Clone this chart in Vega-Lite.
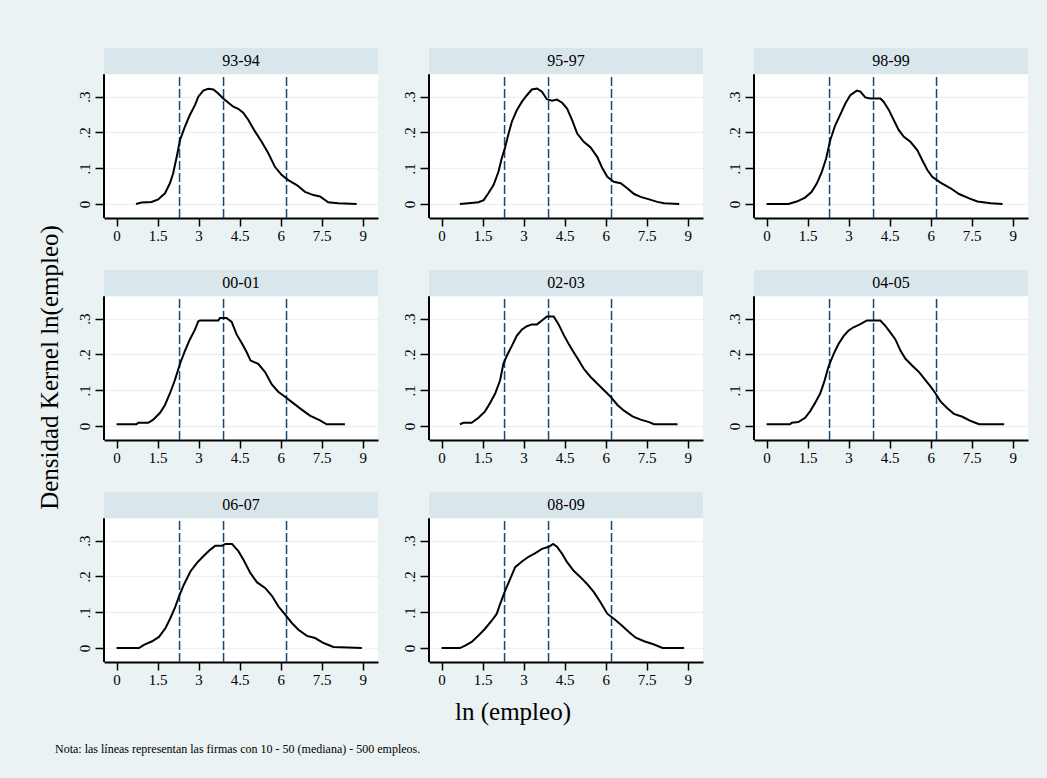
{
 "$schema": "https://vega.github.io/schema/vega-lite/v6.json",
 "background": "#eaf2f3",
 "padding": {"left": 37, "top": 48, "right": 19, "bottom": 25},
 "config": {
  "font": "Liberation Serif",
  "view": {"fill": "white", "stroke": null},
  "title": {"font": "Liberation Serif", "fontWeight": "normal", "color": "black"},
  "axisX": {"grid": false, "domain": true, "domainColor": "black", "domainWidth": 2, "ticks": true, "tickColor": "black", "tickSize": 8, "tickWidth": 1.5, "labelFontSize": 15, "labelFont": "Liberation Serif", "labelColor": "black", "labelPadding": 2, "labelFlush": false},
  "axisY": {"grid": true, "gridColor": "#eaf2f3", "gridWidth": 1.5, "domain": false, "ticks": true, "tickColor": "black", "tickSize": 9, "tickWidth": 1.5, "labelAngle": -90, "labelAlign": "center", "labelBaseline": "bottom", "labelFontSize": 15, "labelFont": "Liberation Serif", "labelColor": "black", "labelPadding": 3}
 },
 "datasets": {
  "kd": [
      {"period":"93-94","lnemp":0.71,"density":0},{"period":"93-94","lnemp":0.91,"density":0.004},{"period":"93-94","lnemp":1.28,"density":0.006},{"period":"93-94","lnemp":1.52,"density":0.013},{"period":"93-94","lnemp":1.77,"density":0.03},{"period":"93-94","lnemp":1.95,"density":0.058},{"period":"93-94","lnemp":2.07,"density":0.086},{"period":"93-94","lnemp":2.2,"density":0.132},{"period":"93-94","lnemp":2.32,"density":0.179},{"period":"93-94","lnemp":2.5,"density":0.216},{"period":"93-94","lnemp":2.68,"density":0.249},{"period":"93-94","lnemp":2.87,"density":0.277},{"period":"93-94","lnemp":2.99,"density":0.3},{"period":"93-94","lnemp":3.17,"density":0.317},{"period":"93-94","lnemp":3.35,"density":0.322},{"period":"93-94","lnemp":3.54,"density":0.32},{"period":"93-94","lnemp":3.72,"density":0.309},{"period":"93-94","lnemp":3.9,"density":0.295},{"period":"93-94","lnemp":4.09,"density":0.283},{"period":"93-94","lnemp":4.27,"density":0.272},{"period":"93-94","lnemp":4.45,"density":0.266},{"period":"93-94","lnemp":4.63,"density":0.255},{"period":"93-94","lnemp":4.82,"density":0.235},{"period":"93-94","lnemp":5.06,"density":0.203},{"period":"93-94","lnemp":5.3,"density":0.175},{"period":"93-94","lnemp":5.55,"density":0.142},{"period":"93-94","lnemp":5.79,"density":0.104},{"period":"93-94","lnemp":6.04,"density":0.081},{"period":"93-94","lnemp":6.28,"density":0.067},{"period":"93-94","lnemp":6.59,"density":0.053},{"period":"93-94","lnemp":6.89,"density":0.034},{"period":"93-94","lnemp":7.2,"density":0.025},{"period":"93-94","lnemp":7.44,"density":0.021},{"period":"93-94","lnemp":7.74,"density":0.005},{"period":"93-94","lnemp":8.11,"density":0.002},{"period":"93-94","lnemp":8.78,"density":0},
      {"period":"95-97","lnemp":0.67,"density":0},{"period":"95-97","lnemp":0.98,"density":0.002},{"period":"95-97","lnemp":1.35,"density":0.005},{"period":"95-97","lnemp":1.54,"density":0.011},{"period":"95-97","lnemp":1.71,"density":0.03},{"period":"95-97","lnemp":1.9,"density":0.053},{"period":"95-97","lnemp":2.08,"density":0.09},{"period":"95-97","lnemp":2.2,"density":0.128},{"period":"95-97","lnemp":2.33,"density":0.16},{"period":"95-97","lnemp":2.45,"density":0.197},{"period":"95-97","lnemp":2.57,"density":0.23},{"period":"95-97","lnemp":2.75,"density":0.262},{"period":"95-97","lnemp":2.94,"density":0.286},{"period":"95-97","lnemp":3.12,"density":0.304},{"period":"95-97","lnemp":3.3,"density":0.32},{"period":"95-97","lnemp":3.49,"density":0.323},{"period":"95-97","lnemp":3.67,"density":0.314},{"period":"95-97","lnemp":3.85,"density":0.293},{"period":"95-97","lnemp":4.04,"density":0.289},{"period":"95-97","lnemp":4.22,"density":0.292},{"period":"95-97","lnemp":4.41,"density":0.283},{"period":"95-97","lnemp":4.59,"density":0.267},{"period":"95-97","lnemp":4.77,"density":0.235},{"period":"95-97","lnemp":4.96,"density":0.197},{"period":"95-97","lnemp":5.2,"density":0.174},{"period":"95-97","lnemp":5.45,"density":0.158},{"period":"95-97","lnemp":5.69,"density":0.132},{"period":"95-97","lnemp":5.88,"density":0.1},{"period":"95-97","lnemp":6.06,"density":0.076},{"period":"95-97","lnemp":6.3,"density":0.062},{"period":"95-97","lnemp":6.55,"density":0.058},{"period":"95-97","lnemp":6.79,"density":0.044},{"period":"95-97","lnemp":7.04,"density":0.028},{"period":"95-97","lnemp":7.28,"density":0.02},{"period":"95-97","lnemp":7.59,"density":0.013},{"period":"95-97","lnemp":7.89,"density":0.006},{"period":"95-97","lnemp":8.14,"density":0.002},{"period":"95-97","lnemp":8.69,"density":0},
      {"period":"98-99","lnemp":0,"density":0},{"period":"98-99","lnemp":0.8,"density":0},{"period":"98-99","lnemp":1.1,"density":0.007},{"period":"98-99","lnemp":1.41,"density":0.018},{"period":"98-99","lnemp":1.65,"density":0.034},{"period":"98-99","lnemp":1.84,"density":0.058},{"period":"98-99","lnemp":2.02,"density":0.09},{"period":"98-99","lnemp":2.18,"density":0.128},{"period":"98-99","lnemp":2.33,"density":0.179},{"period":"98-99","lnemp":2.51,"density":0.22},{"period":"98-99","lnemp":2.69,"density":0.249},{"period":"98-99","lnemp":2.88,"density":0.281},{"period":"98-99","lnemp":3.06,"density":0.304},{"period":"98-99","lnemp":3.3,"density":0.317},{"period":"98-99","lnemp":3.43,"density":0.314},{"period":"98-99","lnemp":3.61,"density":0.298},{"period":"98-99","lnemp":3.79,"density":0.295},{"period":"98-99","lnemp":4.16,"density":0.295},{"period":"98-99","lnemp":4.28,"density":0.286},{"period":"98-99","lnemp":4.47,"density":0.263},{"period":"98-99","lnemp":4.65,"density":0.235},{"period":"98-99","lnemp":4.83,"density":0.207},{"period":"98-99","lnemp":5.02,"density":0.188},{"period":"98-99","lnemp":5.26,"density":0.174},{"period":"98-99","lnemp":5.51,"density":0.151},{"period":"98-99","lnemp":5.69,"density":0.123},{"period":"98-99","lnemp":5.88,"density":0.095},{"period":"98-99","lnemp":6.06,"density":0.076},{"period":"98-99","lnemp":6.36,"density":0.06},{"period":"98-99","lnemp":6.73,"density":0.044},{"period":"98-99","lnemp":7.04,"density":0.028},{"period":"98-99","lnemp":7.41,"density":0.016},{"period":"98-99","lnemp":7.71,"density":0.007},{"period":"98-99","lnemp":8.2,"density":0.002},{"period":"98-99","lnemp":8.63,"density":0},
      {"period":"00-01","lnemp":0,"density":0.005},{"period":"00-01","lnemp":0.73,"density":0.005},{"period":"00-01","lnemp":0.79,"density":0.009},{"period":"00-01","lnemp":1.16,"density":0.009},{"period":"00-01","lnemp":1.34,"density":0.018},{"period":"00-01","lnemp":1.59,"density":0.037},{"period":"00-01","lnemp":1.77,"density":0.059},{"period":"00-01","lnemp":1.95,"density":0.091},{"period":"00-01","lnemp":2.13,"density":0.128},{"period":"00-01","lnemp":2.32,"density":0.174},{"period":"00-01","lnemp":2.5,"density":0.21},{"period":"00-01","lnemp":2.68,"density":0.242},{"period":"00-01","lnemp":2.87,"density":0.27},{"period":"00-01","lnemp":2.99,"density":0.293},{"period":"00-01","lnemp":3.05,"density":0.295},{"period":"00-01","lnemp":3.72,"density":0.295},{"period":"00-01","lnemp":3.78,"density":0.302},{"period":"00-01","lnemp":4.02,"density":0.302},{"period":"00-01","lnemp":4.21,"density":0.291},{"period":"00-01","lnemp":4.39,"density":0.256},{"period":"00-01","lnemp":4.57,"density":0.233},{"period":"00-01","lnemp":4.76,"density":0.206},{"period":"00-01","lnemp":4.9,"density":0.183},{"period":"00-01","lnemp":5.18,"density":0.174},{"period":"00-01","lnemp":5.43,"density":0.151},{"period":"00-01","lnemp":5.67,"density":0.117},{"period":"00-01","lnemp":5.91,"density":0.096},{"period":"00-01","lnemp":6.16,"density":0.082},{"period":"00-01","lnemp":6.46,"density":0.064},{"period":"00-01","lnemp":6.77,"density":0.046},{"period":"00-01","lnemp":7.07,"density":0.029},{"period":"00-01","lnemp":7.44,"density":0.016},{"period":"00-01","lnemp":7.68,"density":0.005},{"period":"00-01","lnemp":8.35,"density":0.005},
      {"period":"02-03","lnemp":0.67,"density":0.005},{"period":"02-03","lnemp":0.8,"density":0.009},{"period":"02-03","lnemp":1.1,"density":0.009},{"period":"02-03","lnemp":1.35,"density":0.023},{"period":"02-03","lnemp":1.59,"density":0.041},{"period":"02-03","lnemp":1.77,"density":0.064},{"period":"02-03","lnemp":1.96,"density":0.091},{"period":"02-03","lnemp":2.14,"density":0.128},{"period":"02-03","lnemp":2.26,"density":0.174},{"period":"02-03","lnemp":2.39,"density":0.197},{"period":"02-03","lnemp":2.57,"density":0.224},{"period":"02-03","lnemp":2.75,"density":0.252},{"period":"02-03","lnemp":2.94,"density":0.27},{"period":"02-03","lnemp":3.12,"density":0.279},{"period":"02-03","lnemp":3.3,"density":0.284},{"period":"02-03","lnemp":3.49,"density":0.284},{"period":"02-03","lnemp":3.67,"density":0.295},{"period":"02-03","lnemp":3.85,"density":0.306},{"period":"02-03","lnemp":4.1,"density":0.306},{"period":"02-03","lnemp":4.28,"density":0.284},{"period":"02-03","lnemp":4.47,"density":0.254},{"period":"02-03","lnemp":4.65,"density":0.229},{"period":"02-03","lnemp":4.83,"density":0.206},{"period":"02-03","lnemp":5.02,"density":0.183},{"period":"02-03","lnemp":5.2,"density":0.16},{"period":"02-03","lnemp":5.45,"density":0.137},{"period":"02-03","lnemp":5.69,"density":0.119},{"period":"02-03","lnemp":5.94,"density":0.1},{"period":"02-03","lnemp":6.18,"density":0.082},{"period":"02-03","lnemp":6.43,"density":0.059},{"period":"02-03","lnemp":6.67,"density":0.043},{"period":"02-03","lnemp":6.98,"density":0.027},{"period":"02-03","lnemp":7.28,"density":0.018},{"period":"02-03","lnemp":7.59,"density":0.011},{"period":"02-03","lnemp":7.77,"density":0.005},{"period":"02-03","lnemp":8.63,"density":0.005},
      {"period":"04-05","lnemp":0,"density":0.005},{"period":"04-05","lnemp":0.86,"density":0.005},{"period":"04-05","lnemp":0.92,"density":0.009},{"period":"04-05","lnemp":1.16,"density":0.011},{"period":"04-05","lnemp":1.41,"density":0.023},{"period":"04-05","lnemp":1.59,"density":0.041},{"period":"04-05","lnemp":1.77,"density":0.064},{"period":"04-05","lnemp":1.96,"density":0.091},{"period":"04-05","lnemp":2.11,"density":0.124},{"period":"04-05","lnemp":2.26,"density":0.165},{"period":"04-05","lnemp":2.45,"density":0.201},{"period":"04-05","lnemp":2.63,"density":0.229},{"period":"04-05","lnemp":2.82,"density":0.252},{"period":"04-05","lnemp":3,"density":0.267},{"period":"04-05","lnemp":3.18,"density":0.276},{"period":"04-05","lnemp":3.43,"density":0.285},{"period":"04-05","lnemp":3.67,"density":0.295},{"period":"04-05","lnemp":4.16,"density":0.295},{"period":"04-05","lnemp":4.35,"density":0.279},{"period":"04-05","lnemp":4.53,"density":0.261},{"period":"04-05","lnemp":4.71,"density":0.242},{"period":"04-05","lnemp":4.9,"density":0.21},{"period":"04-05","lnemp":5.08,"density":0.188},{"period":"04-05","lnemp":5.32,"density":0.169},{"period":"04-05","lnemp":5.57,"density":0.151},{"period":"04-05","lnemp":5.81,"density":0.128},{"period":"04-05","lnemp":6,"density":0.11},{"period":"04-05","lnemp":6.18,"density":0.091},{"period":"04-05","lnemp":6.36,"density":0.069},{"period":"04-05","lnemp":6.61,"density":0.05},{"period":"04-05","lnemp":6.85,"density":0.034},{"period":"04-05","lnemp":7.16,"density":0.026},{"period":"04-05","lnemp":7.47,"density":0.014},{"period":"04-05","lnemp":7.77,"density":0.005},{"period":"04-05","lnemp":8.69,"density":0.005},
      {"period":"06-07","lnemp":0,"density":0},{"period":"06-07","lnemp":0.82,"density":0},{"period":"06-07","lnemp":1,"density":0.009},{"period":"06-07","lnemp":1.3,"density":0.019},{"period":"06-07","lnemp":1.55,"density":0.031},{"period":"06-07","lnemp":1.79,"density":0.056},{"period":"06-07","lnemp":1.97,"density":0.084},{"period":"06-07","lnemp":2.15,"density":0.116},{"period":"06-07","lnemp":2.28,"density":0.144},{"period":"06-07","lnemp":2.46,"density":0.177},{"period":"06-07","lnemp":2.7,"density":0.214},{"period":"06-07","lnemp":2.94,"density":0.238},{"period":"06-07","lnemp":3.19,"density":0.258},{"period":"06-07","lnemp":3.43,"density":0.275},{"period":"06-07","lnemp":3.61,"density":0.286},{"period":"06-07","lnemp":3.86,"density":0.286},{"period":"06-07","lnemp":3.98,"density":0.291},{"period":"06-07","lnemp":4.22,"density":0.291},{"period":"06-07","lnemp":4.46,"density":0.27},{"period":"06-07","lnemp":4.65,"density":0.245},{"period":"06-07","lnemp":4.89,"density":0.21},{"period":"06-07","lnemp":5.13,"density":0.184},{"period":"06-07","lnemp":5.43,"density":0.168},{"period":"06-07","lnemp":5.68,"density":0.146},{"period":"06-07","lnemp":5.92,"density":0.116},{"period":"06-07","lnemp":6.17,"density":0.093},{"period":"06-07","lnemp":6.41,"density":0.07},{"period":"06-07","lnemp":6.65,"density":0.051},{"period":"06-07","lnemp":6.96,"density":0.034},{"period":"06-07","lnemp":7.26,"density":0.028},{"period":"06-07","lnemp":7.57,"density":0.014},{"period":"06-07","lnemp":7.93,"density":0.003},{"period":"06-07","lnemp":8.97,"density":0},
      {"period":"08-09","lnemp":0,"density":0},{"period":"08-09","lnemp":0.67,"density":0},{"period":"08-09","lnemp":0.86,"density":0.007},{"period":"08-09","lnemp":1.1,"density":0.017},{"period":"08-09","lnemp":1.35,"density":0.035},{"period":"08-09","lnemp":1.59,"density":0.054},{"period":"08-09","lnemp":1.84,"density":0.077},{"period":"08-09","lnemp":2.02,"density":0.096},{"period":"08-09","lnemp":2.14,"density":0.123},{"period":"08-09","lnemp":2.33,"density":0.161},{"period":"08-09","lnemp":2.51,"density":0.193},{"period":"08-09","lnemp":2.69,"density":0.226},{"period":"08-09","lnemp":2.94,"density":0.242},{"period":"08-09","lnemp":3.18,"density":0.255},{"period":"08-09","lnemp":3.43,"density":0.265},{"period":"08-09","lnemp":3.67,"density":0.277},{"period":"08-09","lnemp":3.92,"density":0.283},{"period":"08-09","lnemp":4.08,"density":0.291},{"period":"08-09","lnemp":4.22,"density":0.283},{"period":"08-09","lnemp":4.41,"density":0.263},{"period":"08-09","lnemp":4.59,"density":0.24},{"period":"08-09","lnemp":4.83,"density":0.216},{"period":"08-09","lnemp":5.08,"density":0.198},{"period":"08-09","lnemp":5.32,"density":0.179},{"period":"08-09","lnemp":5.57,"density":0.156},{"period":"08-09","lnemp":5.81,"density":0.128},{"period":"08-09","lnemp":6.06,"density":0.096},{"period":"08-09","lnemp":6.3,"density":0.082},{"period":"08-09","lnemp":6.55,"density":0.066},{"period":"08-09","lnemp":6.85,"density":0.045},{"period":"08-09","lnemp":7.1,"density":0.029},{"period":"08-09","lnemp":7.41,"density":0.019},{"period":"08-09","lnemp":7.77,"density":0.01},{"period":"08-09","lnemp":8.08,"density":0},{"period":"08-09","lnemp":8.87,"density":0},
      {"period":"93-94","line":2.303},{"period":"93-94","line":3.912},{"period":"93-94","line":6.215},
      {"period":"95-97","line":2.303},{"period":"95-97","line":3.912},{"period":"95-97","line":6.215},
      {"period":"98-99","line":2.303},{"period":"98-99","line":3.912},{"period":"98-99","line":6.215},
      {"period":"00-01","line":2.303},{"period":"00-01","line":3.912},{"period":"00-01","line":6.215},
      {"period":"02-03","line":2.303},{"period":"02-03","line":3.912},{"period":"02-03","line":6.215},
      {"period":"04-05","line":2.303},{"period":"04-05","line":3.912},{"period":"04-05","line":6.215},
      {"period":"06-07","line":2.303},{"period":"06-07","line":3.912},{"period":"06-07","line":6.215},
      {"period":"08-09","line":2.303},{"period":"08-09","line":3.912},{"period":"08-09","line":6.215}
  ]
 },
 "title": {"text": "Nota: las líneas representan las firmas con 10 - 50 (mediana) - 500 empleos.", "orient": "bottom", "anchor": "start", "fontSize": 12, "offset": 19, "dx": 17},
 "vconcat": [
  {
   "title": {"text": "ln (empleo)", "orient": "bottom", "anchor": "middle", "fontSize": 25, "offset": 13, "dx": -20},
   "vconcat": [
    {
     "title": {"text": "Densidad Kernel ln(empleo)", "orient": "left", "anchor": "middle", "fontSize": 25, "offset": 14},
     "data": {"name": "kd"},
     "spacing": 27,
     "vconcat": [
      {"spacing": 24, "hconcat": [
       {"width": 274, "height": 170, "transform": [{"filter": "datum.period == '93-94'"}], "layer": [
        {"transform": [{"filter": "isValid(datum.density)"}, {"aggregate": [{"op": "count", "as": "n"}], "groupby": ["period"]}], "mark": {"type": "rect", "fill": "#d9e6eb", "stroke": null}, "encoding": {"x": {"datum": -0.46, "type": "quantitative", "scale": {"domain": [-0.46, 9.56], "nice": false, "zero": false}, "axis": {"title": null, "values": [0, 1.5, 3, 4.5, 6, 7.5, 9], "labelExpr": "'' + datum.value"}}, "x2": {"datum": 9.56}, "y": {"datum": 0.363, "type": "quantitative", "scale": {"domain": [-0.039, 0.436], "nice": false, "zero": false}, "axis": {"title": null, "values": [0, 0.1, 0.2, 0.3], "labelExpr": "datum.value == 0 ? '0' : '.' + round(datum.value * 10)"}}, "y2": {"datum": 0.436}}},
        {"transform": [{"filter": "isValid(datum.line)"}], "mark": {"type": "rule", "color": "#1a476f", "strokeWidth": 1.5, "strokeDash": [9, 3]}, "encoding": {"x": {"field": "line", "type": "quantitative", "scale": {"domain": [-0.46, 9.56], "nice": false, "zero": false}, "axis": {"title": null, "values": [0, 1.5, 3, 4.5, 6, 7.5, 9], "labelExpr": "'' + datum.value"}}, "y": {"datum": -0.039, "type": "quantitative", "scale": {"domain": [-0.039, 0.436], "nice": false, "zero": false}, "axis": {"title": null, "values": [0, 0.1, 0.2, 0.3], "labelExpr": "datum.value == 0 ? '0' : '.' + round(datum.value * 10)"}}, "y2": {"datum": 0.363}}},
        {"transform": [{"filter": "isValid(datum.density)"}], "mark": {"type": "line", "color": "black", "strokeWidth": 2}, "encoding": {"x": {"field": "lnemp", "type": "quantitative", "scale": {"domain": [-0.46, 9.56], "nice": false, "zero": false}, "axis": {"title": null, "values": [0, 1.5, 3, 4.5, 6, 7.5, 9], "labelExpr": "'' + datum.value"}}, "y": {"field": "density", "type": "quantitative", "scale": {"domain": [-0.039, 0.436], "nice": false, "zero": false}, "axis": {"title": null, "values": [0, 0.1, 0.2, 0.3], "labelExpr": "datum.value == 0 ? '0' : '.' + round(datum.value * 10)"}}}},
        {"transform": [{"filter": "isValid(datum.density)"}, {"aggregate": [{"op": "count", "as": "n"}], "groupby": ["period"]}], "mark": {"type": "rule", "color": "black", "strokeWidth": 2}, "encoding": {"x": {"datum": -0.46, "type": "quantitative", "scale": {"domain": [-0.46, 9.56], "nice": false, "zero": false}, "axis": {"title": null, "values": [0, 1.5, 3, 4.5, 6, 7.5, 9], "labelExpr": "'' + datum.value"}}, "y": {"datum": -0.039, "type": "quantitative", "scale": {"domain": [-0.039, 0.436], "nice": false, "zero": false}, "axis": {"title": null, "values": [0, 0.1, 0.2, 0.3], "labelExpr": "datum.value == 0 ? '0' : '.' + round(datum.value * 10)"}}, "y2": {"datum": 0.363}}},
        {"transform": [{"filter": "isValid(datum.density)"}, {"aggregate": [{"op": "count", "as": "n"}], "groupby": ["period"]}], "mark": {"type": "text", "fontSize": 16, "color": "black", "font": "Liberation Serif", "baseline": "middle", "align": "center"}, "encoding": {"x": {"datum": 4.55, "type": "quantitative", "scale": {"domain": [-0.46, 9.56], "nice": false, "zero": false}, "axis": {"title": null, "values": [0, 1.5, 3, 4.5, 6, 7.5, 9], "labelExpr": "'' + datum.value"}}, "y": {"datum": 0.3995, "type": "quantitative", "scale": {"domain": [-0.039, 0.436], "nice": false, "zero": false}, "axis": {"title": null, "values": [0, 0.1, 0.2, 0.3], "labelExpr": "datum.value == 0 ? '0' : '.' + round(datum.value * 10)"}}, "text": {"field": "period", "type": "nominal"}}}
       ]},
       {"width": 274, "height": 170, "transform": [{"filter": "datum.period == '95-97'"}], "layer": [
        {"transform": [{"filter": "isValid(datum.density)"}, {"aggregate": [{"op": "count", "as": "n"}], "groupby": ["period"]}], "mark": {"type": "rect", "fill": "#d9e6eb", "stroke": null}, "encoding": {"x": {"datum": -0.46, "type": "quantitative", "scale": {"domain": [-0.46, 9.56], "nice": false, "zero": false}, "axis": {"title": null, "values": [0, 1.5, 3, 4.5, 6, 7.5, 9], "labelExpr": "'' + datum.value"}}, "x2": {"datum": 9.56}, "y": {"datum": 0.363, "type": "quantitative", "scale": {"domain": [-0.039, 0.436], "nice": false, "zero": false}, "axis": {"title": null, "values": [0, 0.1, 0.2, 0.3], "labelExpr": "datum.value == 0 ? '0' : '.' + round(datum.value * 10)"}}, "y2": {"datum": 0.436}}},
        {"transform": [{"filter": "isValid(datum.line)"}], "mark": {"type": "rule", "color": "#1a476f", "strokeWidth": 1.5, "strokeDash": [9, 3]}, "encoding": {"x": {"field": "line", "type": "quantitative", "scale": {"domain": [-0.46, 9.56], "nice": false, "zero": false}, "axis": {"title": null, "values": [0, 1.5, 3, 4.5, 6, 7.5, 9], "labelExpr": "'' + datum.value"}}, "y": {"datum": -0.039, "type": "quantitative", "scale": {"domain": [-0.039, 0.436], "nice": false, "zero": false}, "axis": {"title": null, "values": [0, 0.1, 0.2, 0.3], "labelExpr": "datum.value == 0 ? '0' : '.' + round(datum.value * 10)"}}, "y2": {"datum": 0.363}}},
        {"transform": [{"filter": "isValid(datum.density)"}], "mark": {"type": "line", "color": "black", "strokeWidth": 2}, "encoding": {"x": {"field": "lnemp", "type": "quantitative", "scale": {"domain": [-0.46, 9.56], "nice": false, "zero": false}, "axis": {"title": null, "values": [0, 1.5, 3, 4.5, 6, 7.5, 9], "labelExpr": "'' + datum.value"}}, "y": {"field": "density", "type": "quantitative", "scale": {"domain": [-0.039, 0.436], "nice": false, "zero": false}, "axis": {"title": null, "values": [0, 0.1, 0.2, 0.3], "labelExpr": "datum.value == 0 ? '0' : '.' + round(datum.value * 10)"}}}},
        {"transform": [{"filter": "isValid(datum.density)"}, {"aggregate": [{"op": "count", "as": "n"}], "groupby": ["period"]}], "mark": {"type": "rule", "color": "black", "strokeWidth": 2}, "encoding": {"x": {"datum": -0.46, "type": "quantitative", "scale": {"domain": [-0.46, 9.56], "nice": false, "zero": false}, "axis": {"title": null, "values": [0, 1.5, 3, 4.5, 6, 7.5, 9], "labelExpr": "'' + datum.value"}}, "y": {"datum": -0.039, "type": "quantitative", "scale": {"domain": [-0.039, 0.436], "nice": false, "zero": false}, "axis": {"title": null, "values": [0, 0.1, 0.2, 0.3], "labelExpr": "datum.value == 0 ? '0' : '.' + round(datum.value * 10)"}}, "y2": {"datum": 0.363}}},
        {"transform": [{"filter": "isValid(datum.density)"}, {"aggregate": [{"op": "count", "as": "n"}], "groupby": ["period"]}], "mark": {"type": "text", "fontSize": 16, "color": "black", "font": "Liberation Serif", "baseline": "middle", "align": "center"}, "encoding": {"x": {"datum": 4.55, "type": "quantitative", "scale": {"domain": [-0.46, 9.56], "nice": false, "zero": false}, "axis": {"title": null, "values": [0, 1.5, 3, 4.5, 6, 7.5, 9], "labelExpr": "'' + datum.value"}}, "y": {"datum": 0.3995, "type": "quantitative", "scale": {"domain": [-0.039, 0.436], "nice": false, "zero": false}, "axis": {"title": null, "values": [0, 0.1, 0.2, 0.3], "labelExpr": "datum.value == 0 ? '0' : '.' + round(datum.value * 10)"}}, "text": {"field": "period", "type": "nominal"}}}
       ]},
       {"width": 274, "height": 170, "transform": [{"filter": "datum.period == '98-99'"}], "layer": [
        {"transform": [{"filter": "isValid(datum.density)"}, {"aggregate": [{"op": "count", "as": "n"}], "groupby": ["period"]}], "mark": {"type": "rect", "fill": "#d9e6eb", "stroke": null}, "encoding": {"x": {"datum": -0.46, "type": "quantitative", "scale": {"domain": [-0.46, 9.56], "nice": false, "zero": false}, "axis": {"title": null, "values": [0, 1.5, 3, 4.5, 6, 7.5, 9], "labelExpr": "'' + datum.value"}}, "x2": {"datum": 9.56}, "y": {"datum": 0.363, "type": "quantitative", "scale": {"domain": [-0.039, 0.436], "nice": false, "zero": false}, "axis": {"title": null, "values": [0, 0.1, 0.2, 0.3], "labelExpr": "datum.value == 0 ? '0' : '.' + round(datum.value * 10)"}}, "y2": {"datum": 0.436}}},
        {"transform": [{"filter": "isValid(datum.line)"}], "mark": {"type": "rule", "color": "#1a476f", "strokeWidth": 1.5, "strokeDash": [9, 3]}, "encoding": {"x": {"field": "line", "type": "quantitative", "scale": {"domain": [-0.46, 9.56], "nice": false, "zero": false}, "axis": {"title": null, "values": [0, 1.5, 3, 4.5, 6, 7.5, 9], "labelExpr": "'' + datum.value"}}, "y": {"datum": -0.039, "type": "quantitative", "scale": {"domain": [-0.039, 0.436], "nice": false, "zero": false}, "axis": {"title": null, "values": [0, 0.1, 0.2, 0.3], "labelExpr": "datum.value == 0 ? '0' : '.' + round(datum.value * 10)"}}, "y2": {"datum": 0.363}}},
        {"transform": [{"filter": "isValid(datum.density)"}], "mark": {"type": "line", "color": "black", "strokeWidth": 2}, "encoding": {"x": {"field": "lnemp", "type": "quantitative", "scale": {"domain": [-0.46, 9.56], "nice": false, "zero": false}, "axis": {"title": null, "values": [0, 1.5, 3, 4.5, 6, 7.5, 9], "labelExpr": "'' + datum.value"}}, "y": {"field": "density", "type": "quantitative", "scale": {"domain": [-0.039, 0.436], "nice": false, "zero": false}, "axis": {"title": null, "values": [0, 0.1, 0.2, 0.3], "labelExpr": "datum.value == 0 ? '0' : '.' + round(datum.value * 10)"}}}},
        {"transform": [{"filter": "isValid(datum.density)"}, {"aggregate": [{"op": "count", "as": "n"}], "groupby": ["period"]}], "mark": {"type": "rule", "color": "black", "strokeWidth": 2}, "encoding": {"x": {"datum": -0.46, "type": "quantitative", "scale": {"domain": [-0.46, 9.56], "nice": false, "zero": false}, "axis": {"title": null, "values": [0, 1.5, 3, 4.5, 6, 7.5, 9], "labelExpr": "'' + datum.value"}}, "y": {"datum": -0.039, "type": "quantitative", "scale": {"domain": [-0.039, 0.436], "nice": false, "zero": false}, "axis": {"title": null, "values": [0, 0.1, 0.2, 0.3], "labelExpr": "datum.value == 0 ? '0' : '.' + round(datum.value * 10)"}}, "y2": {"datum": 0.363}}},
        {"transform": [{"filter": "isValid(datum.density)"}, {"aggregate": [{"op": "count", "as": "n"}], "groupby": ["period"]}], "mark": {"type": "text", "fontSize": 16, "color": "black", "font": "Liberation Serif", "baseline": "middle", "align": "center"}, "encoding": {"x": {"datum": 4.55, "type": "quantitative", "scale": {"domain": [-0.46, 9.56], "nice": false, "zero": false}, "axis": {"title": null, "values": [0, 1.5, 3, 4.5, 6, 7.5, 9], "labelExpr": "'' + datum.value"}}, "y": {"datum": 0.3995, "type": "quantitative", "scale": {"domain": [-0.039, 0.436], "nice": false, "zero": false}, "axis": {"title": null, "values": [0, 0.1, 0.2, 0.3], "labelExpr": "datum.value == 0 ? '0' : '.' + round(datum.value * 10)"}}, "text": {"field": "period", "type": "nominal"}}}
       ]}
      ]},
      {"spacing": 24, "hconcat": [
       {"width": 274, "height": 170, "transform": [{"filter": "datum.period == '00-01'"}], "layer": [
        {"transform": [{"filter": "isValid(datum.density)"}, {"aggregate": [{"op": "count", "as": "n"}], "groupby": ["period"]}], "mark": {"type": "rect", "fill": "#d9e6eb", "stroke": null}, "encoding": {"x": {"datum": -0.46, "type": "quantitative", "scale": {"domain": [-0.46, 9.56], "nice": false, "zero": false}, "axis": {"title": null, "values": [0, 1.5, 3, 4.5, 6, 7.5, 9], "labelExpr": "'' + datum.value"}}, "x2": {"datum": 9.56}, "y": {"datum": 0.363, "type": "quantitative", "scale": {"domain": [-0.039, 0.436], "nice": false, "zero": false}, "axis": {"title": null, "values": [0, 0.1, 0.2, 0.3], "labelExpr": "datum.value == 0 ? '0' : '.' + round(datum.value * 10)"}}, "y2": {"datum": 0.436}}},
        {"transform": [{"filter": "isValid(datum.line)"}], "mark": {"type": "rule", "color": "#1a476f", "strokeWidth": 1.5, "strokeDash": [9, 3]}, "encoding": {"x": {"field": "line", "type": "quantitative", "scale": {"domain": [-0.46, 9.56], "nice": false, "zero": false}, "axis": {"title": null, "values": [0, 1.5, 3, 4.5, 6, 7.5, 9], "labelExpr": "'' + datum.value"}}, "y": {"datum": -0.039, "type": "quantitative", "scale": {"domain": [-0.039, 0.436], "nice": false, "zero": false}, "axis": {"title": null, "values": [0, 0.1, 0.2, 0.3], "labelExpr": "datum.value == 0 ? '0' : '.' + round(datum.value * 10)"}}, "y2": {"datum": 0.363}}},
        {"transform": [{"filter": "isValid(datum.density)"}], "mark": {"type": "line", "color": "black", "strokeWidth": 2}, "encoding": {"x": {"field": "lnemp", "type": "quantitative", "scale": {"domain": [-0.46, 9.56], "nice": false, "zero": false}, "axis": {"title": null, "values": [0, 1.5, 3, 4.5, 6, 7.5, 9], "labelExpr": "'' + datum.value"}}, "y": {"field": "density", "type": "quantitative", "scale": {"domain": [-0.039, 0.436], "nice": false, "zero": false}, "axis": {"title": null, "values": [0, 0.1, 0.2, 0.3], "labelExpr": "datum.value == 0 ? '0' : '.' + round(datum.value * 10)"}}}},
        {"transform": [{"filter": "isValid(datum.density)"}, {"aggregate": [{"op": "count", "as": "n"}], "groupby": ["period"]}], "mark": {"type": "rule", "color": "black", "strokeWidth": 2}, "encoding": {"x": {"datum": -0.46, "type": "quantitative", "scale": {"domain": [-0.46, 9.56], "nice": false, "zero": false}, "axis": {"title": null, "values": [0, 1.5, 3, 4.5, 6, 7.5, 9], "labelExpr": "'' + datum.value"}}, "y": {"datum": -0.039, "type": "quantitative", "scale": {"domain": [-0.039, 0.436], "nice": false, "zero": false}, "axis": {"title": null, "values": [0, 0.1, 0.2, 0.3], "labelExpr": "datum.value == 0 ? '0' : '.' + round(datum.value * 10)"}}, "y2": {"datum": 0.363}}},
        {"transform": [{"filter": "isValid(datum.density)"}, {"aggregate": [{"op": "count", "as": "n"}], "groupby": ["period"]}], "mark": {"type": "text", "fontSize": 16, "color": "black", "font": "Liberation Serif", "baseline": "middle", "align": "center"}, "encoding": {"x": {"datum": 4.55, "type": "quantitative", "scale": {"domain": [-0.46, 9.56], "nice": false, "zero": false}, "axis": {"title": null, "values": [0, 1.5, 3, 4.5, 6, 7.5, 9], "labelExpr": "'' + datum.value"}}, "y": {"datum": 0.3995, "type": "quantitative", "scale": {"domain": [-0.039, 0.436], "nice": false, "zero": false}, "axis": {"title": null, "values": [0, 0.1, 0.2, 0.3], "labelExpr": "datum.value == 0 ? '0' : '.' + round(datum.value * 10)"}}, "text": {"field": "period", "type": "nominal"}}}
       ]},
       {"width": 274, "height": 170, "transform": [{"filter": "datum.period == '02-03'"}], "layer": [
        {"transform": [{"filter": "isValid(datum.density)"}, {"aggregate": [{"op": "count", "as": "n"}], "groupby": ["period"]}], "mark": {"type": "rect", "fill": "#d9e6eb", "stroke": null}, "encoding": {"x": {"datum": -0.46, "type": "quantitative", "scale": {"domain": [-0.46, 9.56], "nice": false, "zero": false}, "axis": {"title": null, "values": [0, 1.5, 3, 4.5, 6, 7.5, 9], "labelExpr": "'' + datum.value"}}, "x2": {"datum": 9.56}, "y": {"datum": 0.363, "type": "quantitative", "scale": {"domain": [-0.039, 0.436], "nice": false, "zero": false}, "axis": {"title": null, "values": [0, 0.1, 0.2, 0.3], "labelExpr": "datum.value == 0 ? '0' : '.' + round(datum.value * 10)"}}, "y2": {"datum": 0.436}}},
        {"transform": [{"filter": "isValid(datum.line)"}], "mark": {"type": "rule", "color": "#1a476f", "strokeWidth": 1.5, "strokeDash": [9, 3]}, "encoding": {"x": {"field": "line", "type": "quantitative", "scale": {"domain": [-0.46, 9.56], "nice": false, "zero": false}, "axis": {"title": null, "values": [0, 1.5, 3, 4.5, 6, 7.5, 9], "labelExpr": "'' + datum.value"}}, "y": {"datum": -0.039, "type": "quantitative", "scale": {"domain": [-0.039, 0.436], "nice": false, "zero": false}, "axis": {"title": null, "values": [0, 0.1, 0.2, 0.3], "labelExpr": "datum.value == 0 ? '0' : '.' + round(datum.value * 10)"}}, "y2": {"datum": 0.363}}},
        {"transform": [{"filter": "isValid(datum.density)"}], "mark": {"type": "line", "color": "black", "strokeWidth": 2}, "encoding": {"x": {"field": "lnemp", "type": "quantitative", "scale": {"domain": [-0.46, 9.56], "nice": false, "zero": false}, "axis": {"title": null, "values": [0, 1.5, 3, 4.5, 6, 7.5, 9], "labelExpr": "'' + datum.value"}}, "y": {"field": "density", "type": "quantitative", "scale": {"domain": [-0.039, 0.436], "nice": false, "zero": false}, "axis": {"title": null, "values": [0, 0.1, 0.2, 0.3], "labelExpr": "datum.value == 0 ? '0' : '.' + round(datum.value * 10)"}}}},
        {"transform": [{"filter": "isValid(datum.density)"}, {"aggregate": [{"op": "count", "as": "n"}], "groupby": ["period"]}], "mark": {"type": "rule", "color": "black", "strokeWidth": 2}, "encoding": {"x": {"datum": -0.46, "type": "quantitative", "scale": {"domain": [-0.46, 9.56], "nice": false, "zero": false}, "axis": {"title": null, "values": [0, 1.5, 3, 4.5, 6, 7.5, 9], "labelExpr": "'' + datum.value"}}, "y": {"datum": -0.039, "type": "quantitative", "scale": {"domain": [-0.039, 0.436], "nice": false, "zero": false}, "axis": {"title": null, "values": [0, 0.1, 0.2, 0.3], "labelExpr": "datum.value == 0 ? '0' : '.' + round(datum.value * 10)"}}, "y2": {"datum": 0.363}}},
        {"transform": [{"filter": "isValid(datum.density)"}, {"aggregate": [{"op": "count", "as": "n"}], "groupby": ["period"]}], "mark": {"type": "text", "fontSize": 16, "color": "black", "font": "Liberation Serif", "baseline": "middle", "align": "center"}, "encoding": {"x": {"datum": 4.55, "type": "quantitative", "scale": {"domain": [-0.46, 9.56], "nice": false, "zero": false}, "axis": {"title": null, "values": [0, 1.5, 3, 4.5, 6, 7.5, 9], "labelExpr": "'' + datum.value"}}, "y": {"datum": 0.3995, "type": "quantitative", "scale": {"domain": [-0.039, 0.436], "nice": false, "zero": false}, "axis": {"title": null, "values": [0, 0.1, 0.2, 0.3], "labelExpr": "datum.value == 0 ? '0' : '.' + round(datum.value * 10)"}}, "text": {"field": "period", "type": "nominal"}}}
       ]},
       {"width": 274, "height": 170, "transform": [{"filter": "datum.period == '04-05'"}], "layer": [
        {"transform": [{"filter": "isValid(datum.density)"}, {"aggregate": [{"op": "count", "as": "n"}], "groupby": ["period"]}], "mark": {"type": "rect", "fill": "#d9e6eb", "stroke": null}, "encoding": {"x": {"datum": -0.46, "type": "quantitative", "scale": {"domain": [-0.46, 9.56], "nice": false, "zero": false}, "axis": {"title": null, "values": [0, 1.5, 3, 4.5, 6, 7.5, 9], "labelExpr": "'' + datum.value"}}, "x2": {"datum": 9.56}, "y": {"datum": 0.363, "type": "quantitative", "scale": {"domain": [-0.039, 0.436], "nice": false, "zero": false}, "axis": {"title": null, "values": [0, 0.1, 0.2, 0.3], "labelExpr": "datum.value == 0 ? '0' : '.' + round(datum.value * 10)"}}, "y2": {"datum": 0.436}}},
        {"transform": [{"filter": "isValid(datum.line)"}], "mark": {"type": "rule", "color": "#1a476f", "strokeWidth": 1.5, "strokeDash": [9, 3]}, "encoding": {"x": {"field": "line", "type": "quantitative", "scale": {"domain": [-0.46, 9.56], "nice": false, "zero": false}, "axis": {"title": null, "values": [0, 1.5, 3, 4.5, 6, 7.5, 9], "labelExpr": "'' + datum.value"}}, "y": {"datum": -0.039, "type": "quantitative", "scale": {"domain": [-0.039, 0.436], "nice": false, "zero": false}, "axis": {"title": null, "values": [0, 0.1, 0.2, 0.3], "labelExpr": "datum.value == 0 ? '0' : '.' + round(datum.value * 10)"}}, "y2": {"datum": 0.363}}},
        {"transform": [{"filter": "isValid(datum.density)"}], "mark": {"type": "line", "color": "black", "strokeWidth": 2}, "encoding": {"x": {"field": "lnemp", "type": "quantitative", "scale": {"domain": [-0.46, 9.56], "nice": false, "zero": false}, "axis": {"title": null, "values": [0, 1.5, 3, 4.5, 6, 7.5, 9], "labelExpr": "'' + datum.value"}}, "y": {"field": "density", "type": "quantitative", "scale": {"domain": [-0.039, 0.436], "nice": false, "zero": false}, "axis": {"title": null, "values": [0, 0.1, 0.2, 0.3], "labelExpr": "datum.value == 0 ? '0' : '.' + round(datum.value * 10)"}}}},
        {"transform": [{"filter": "isValid(datum.density)"}, {"aggregate": [{"op": "count", "as": "n"}], "groupby": ["period"]}], "mark": {"type": "rule", "color": "black", "strokeWidth": 2}, "encoding": {"x": {"datum": -0.46, "type": "quantitative", "scale": {"domain": [-0.46, 9.56], "nice": false, "zero": false}, "axis": {"title": null, "values": [0, 1.5, 3, 4.5, 6, 7.5, 9], "labelExpr": "'' + datum.value"}}, "y": {"datum": -0.039, "type": "quantitative", "scale": {"domain": [-0.039, 0.436], "nice": false, "zero": false}, "axis": {"title": null, "values": [0, 0.1, 0.2, 0.3], "labelExpr": "datum.value == 0 ? '0' : '.' + round(datum.value * 10)"}}, "y2": {"datum": 0.363}}},
        {"transform": [{"filter": "isValid(datum.density)"}, {"aggregate": [{"op": "count", "as": "n"}], "groupby": ["period"]}], "mark": {"type": "text", "fontSize": 16, "color": "black", "font": "Liberation Serif", "baseline": "middle", "align": "center"}, "encoding": {"x": {"datum": 4.55, "type": "quantitative", "scale": {"domain": [-0.46, 9.56], "nice": false, "zero": false}, "axis": {"title": null, "values": [0, 1.5, 3, 4.5, 6, 7.5, 9], "labelExpr": "'' + datum.value"}}, "y": {"datum": 0.3995, "type": "quantitative", "scale": {"domain": [-0.039, 0.436], "nice": false, "zero": false}, "axis": {"title": null, "values": [0, 0.1, 0.2, 0.3], "labelExpr": "datum.value == 0 ? '0' : '.' + round(datum.value * 10)"}}, "text": {"field": "period", "type": "nominal"}}}
       ]}
      ]},
      {"spacing": 24, "hconcat": [
       {"width": 274, "height": 170, "transform": [{"filter": "datum.period == '06-07'"}], "layer": [
        {"transform": [{"filter": "isValid(datum.density)"}, {"aggregate": [{"op": "count", "as": "n"}], "groupby": ["period"]}], "mark": {"type": "rect", "fill": "#d9e6eb", "stroke": null}, "encoding": {"x": {"datum": -0.46, "type": "quantitative", "scale": {"domain": [-0.46, 9.56], "nice": false, "zero": false}, "axis": {"title": null, "values": [0, 1.5, 3, 4.5, 6, 7.5, 9], "labelExpr": "'' + datum.value"}}, "x2": {"datum": 9.56}, "y": {"datum": 0.363, "type": "quantitative", "scale": {"domain": [-0.039, 0.436], "nice": false, "zero": false}, "axis": {"title": null, "values": [0, 0.1, 0.2, 0.3], "labelExpr": "datum.value == 0 ? '0' : '.' + round(datum.value * 10)"}}, "y2": {"datum": 0.436}}},
        {"transform": [{"filter": "isValid(datum.line)"}], "mark": {"type": "rule", "color": "#1a476f", "strokeWidth": 1.5, "strokeDash": [9, 3]}, "encoding": {"x": {"field": "line", "type": "quantitative", "scale": {"domain": [-0.46, 9.56], "nice": false, "zero": false}, "axis": {"title": null, "values": [0, 1.5, 3, 4.5, 6, 7.5, 9], "labelExpr": "'' + datum.value"}}, "y": {"datum": -0.039, "type": "quantitative", "scale": {"domain": [-0.039, 0.436], "nice": false, "zero": false}, "axis": {"title": null, "values": [0, 0.1, 0.2, 0.3], "labelExpr": "datum.value == 0 ? '0' : '.' + round(datum.value * 10)"}}, "y2": {"datum": 0.363}}},
        {"transform": [{"filter": "isValid(datum.density)"}], "mark": {"type": "line", "color": "black", "strokeWidth": 2}, "encoding": {"x": {"field": "lnemp", "type": "quantitative", "scale": {"domain": [-0.46, 9.56], "nice": false, "zero": false}, "axis": {"title": null, "values": [0, 1.5, 3, 4.5, 6, 7.5, 9], "labelExpr": "'' + datum.value"}}, "y": {"field": "density", "type": "quantitative", "scale": {"domain": [-0.039, 0.436], "nice": false, "zero": false}, "axis": {"title": null, "values": [0, 0.1, 0.2, 0.3], "labelExpr": "datum.value == 0 ? '0' : '.' + round(datum.value * 10)"}}}},
        {"transform": [{"filter": "isValid(datum.density)"}, {"aggregate": [{"op": "count", "as": "n"}], "groupby": ["period"]}], "mark": {"type": "rule", "color": "black", "strokeWidth": 2}, "encoding": {"x": {"datum": -0.46, "type": "quantitative", "scale": {"domain": [-0.46, 9.56], "nice": false, "zero": false}, "axis": {"title": null, "values": [0, 1.5, 3, 4.5, 6, 7.5, 9], "labelExpr": "'' + datum.value"}}, "y": {"datum": -0.039, "type": "quantitative", "scale": {"domain": [-0.039, 0.436], "nice": false, "zero": false}, "axis": {"title": null, "values": [0, 0.1, 0.2, 0.3], "labelExpr": "datum.value == 0 ? '0' : '.' + round(datum.value * 10)"}}, "y2": {"datum": 0.363}}},
        {"transform": [{"filter": "isValid(datum.density)"}, {"aggregate": [{"op": "count", "as": "n"}], "groupby": ["period"]}], "mark": {"type": "text", "fontSize": 16, "color": "black", "font": "Liberation Serif", "baseline": "middle", "align": "center"}, "encoding": {"x": {"datum": 4.55, "type": "quantitative", "scale": {"domain": [-0.46, 9.56], "nice": false, "zero": false}, "axis": {"title": null, "values": [0, 1.5, 3, 4.5, 6, 7.5, 9], "labelExpr": "'' + datum.value"}}, "y": {"datum": 0.3995, "type": "quantitative", "scale": {"domain": [-0.039, 0.436], "nice": false, "zero": false}, "axis": {"title": null, "values": [0, 0.1, 0.2, 0.3], "labelExpr": "datum.value == 0 ? '0' : '.' + round(datum.value * 10)"}}, "text": {"field": "period", "type": "nominal"}}}
       ]},
       {"width": 274, "height": 170, "transform": [{"filter": "datum.period == '08-09'"}], "layer": [
        {"transform": [{"filter": "isValid(datum.density)"}, {"aggregate": [{"op": "count", "as": "n"}], "groupby": ["period"]}], "mark": {"type": "rect", "fill": "#d9e6eb", "stroke": null}, "encoding": {"x": {"datum": -0.46, "type": "quantitative", "scale": {"domain": [-0.46, 9.56], "nice": false, "zero": false}, "axis": {"title": null, "values": [0, 1.5, 3, 4.5, 6, 7.5, 9], "labelExpr": "'' + datum.value"}}, "x2": {"datum": 9.56}, "y": {"datum": 0.363, "type": "quantitative", "scale": {"domain": [-0.039, 0.436], "nice": false, "zero": false}, "axis": {"title": null, "values": [0, 0.1, 0.2, 0.3], "labelExpr": "datum.value == 0 ? '0' : '.' + round(datum.value * 10)"}}, "y2": {"datum": 0.436}}},
        {"transform": [{"filter": "isValid(datum.line)"}], "mark": {"type": "rule", "color": "#1a476f", "strokeWidth": 1.5, "strokeDash": [9, 3]}, "encoding": {"x": {"field": "line", "type": "quantitative", "scale": {"domain": [-0.46, 9.56], "nice": false, "zero": false}, "axis": {"title": null, "values": [0, 1.5, 3, 4.5, 6, 7.5, 9], "labelExpr": "'' + datum.value"}}, "y": {"datum": -0.039, "type": "quantitative", "scale": {"domain": [-0.039, 0.436], "nice": false, "zero": false}, "axis": {"title": null, "values": [0, 0.1, 0.2, 0.3], "labelExpr": "datum.value == 0 ? '0' : '.' + round(datum.value * 10)"}}, "y2": {"datum": 0.363}}},
        {"transform": [{"filter": "isValid(datum.density)"}], "mark": {"type": "line", "color": "black", "strokeWidth": 2}, "encoding": {"x": {"field": "lnemp", "type": "quantitative", "scale": {"domain": [-0.46, 9.56], "nice": false, "zero": false}, "axis": {"title": null, "values": [0, 1.5, 3, 4.5, 6, 7.5, 9], "labelExpr": "'' + datum.value"}}, "y": {"field": "density", "type": "quantitative", "scale": {"domain": [-0.039, 0.436], "nice": false, "zero": false}, "axis": {"title": null, "values": [0, 0.1, 0.2, 0.3], "labelExpr": "datum.value == 0 ? '0' : '.' + round(datum.value * 10)"}}}},
        {"transform": [{"filter": "isValid(datum.density)"}, {"aggregate": [{"op": "count", "as": "n"}], "groupby": ["period"]}], "mark": {"type": "rule", "color": "black", "strokeWidth": 2}, "encoding": {"x": {"datum": -0.46, "type": "quantitative", "scale": {"domain": [-0.46, 9.56], "nice": false, "zero": false}, "axis": {"title": null, "values": [0, 1.5, 3, 4.5, 6, 7.5, 9], "labelExpr": "'' + datum.value"}}, "y": {"datum": -0.039, "type": "quantitative", "scale": {"domain": [-0.039, 0.436], "nice": false, "zero": false}, "axis": {"title": null, "values": [0, 0.1, 0.2, 0.3], "labelExpr": "datum.value == 0 ? '0' : '.' + round(datum.value * 10)"}}, "y2": {"datum": 0.363}}},
        {"transform": [{"filter": "isValid(datum.density)"}, {"aggregate": [{"op": "count", "as": "n"}], "groupby": ["period"]}], "mark": {"type": "text", "fontSize": 16, "color": "black", "font": "Liberation Serif", "baseline": "middle", "align": "center"}, "encoding": {"x": {"datum": 4.55, "type": "quantitative", "scale": {"domain": [-0.46, 9.56], "nice": false, "zero": false}, "axis": {"title": null, "values": [0, 1.5, 3, 4.5, 6, 7.5, 9], "labelExpr": "'' + datum.value"}}, "y": {"datum": 0.3995, "type": "quantitative", "scale": {"domain": [-0.039, 0.436], "nice": false, "zero": false}, "axis": {"title": null, "values": [0, 0.1, 0.2, 0.3], "labelExpr": "datum.value == 0 ? '0' : '.' + round(datum.value * 10)"}}, "text": {"field": "period", "type": "nominal"}}}
       ]}
      ]}
     ]
    }
   ]
  }
 ]
}
